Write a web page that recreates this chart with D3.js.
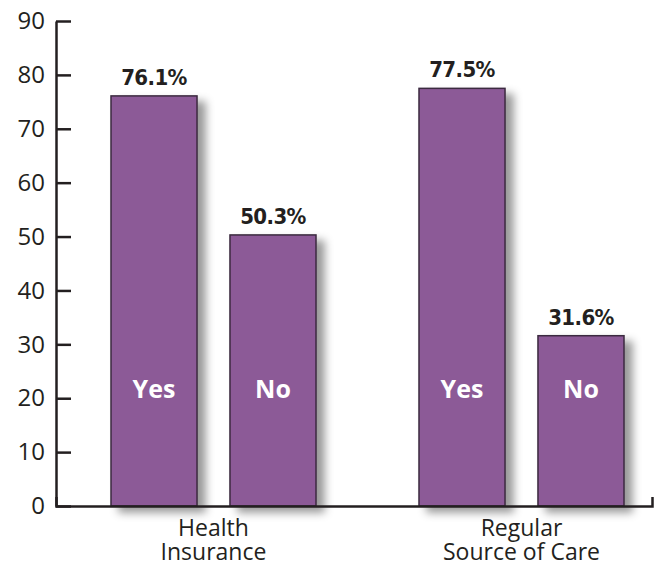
<!DOCTYPE html>
<html>
<head>
<meta charset="utf-8">
<script src="https://cdn.jsdelivr.net/npm/d3@7"></script>
<style>
  body { margin: 0; background: #fff; }
  .tick text { font-family: "Open Sans", sans-serif; font-size: 24px; fill: #231f20; }
  .valueText { font-family: "DejaVu Sans Condensed", sans-serif; font-stretch: condensed; font-weight: bold; font-size: 22px; letter-spacing: -0.6px; fill: #231f20; }
  .barText { font-family: "Open Sans", sans-serif; font-weight: bold; font-size: 25px; fill: #fff; }
  .catText { font-family: "Open Sans", sans-serif; font-size: 23px; fill: #231f20; }
</style>
</head>
<body>
<div id="chart"></div>
<script>
// Chart data
var groups = ["Health Insurance", "Regular Source of Care"];
var groupLines = [["Health", "Insurance"], ["Regular", "Source of Care"]];
var answers = ["Yes", "No"];
var yesValues = [76.1, 77.5];
var noValues = [50.3, 31.6];
var yTicks = [0, 10, 20, 30, 40, 50, 60, 70, 80, 90];

var svgWidth = 654;
var svgHeight = 566;

var svg = d3.select("#chart")
  .append("svg")
  .attr("width", svgWidth)
  .attr("height", svgHeight);

// soft shadow behind bars
var defs = svg.append("defs");
var shadow = defs.append("filter")
  .attr("id", "barShadow")
  .attr("x", "-20%").attr("y", "-20%")
  .attr("width", "160%").attr("height", "160%");
shadow.append("feDropShadow")
  .attr("dx", 8)
  .attr("dy", 6)
  .attr("stdDeviation", 4)
  .attr("flood-color", "#000")
  .attr("flood-opacity", 0.4);

// build rows from the arrays
var rows = [];
groups.forEach(function(g, i) {
  rows.push({ group: g, answer: "Yes", value: yesValues[i] });
  rows.push({ group: g, answer: "No", value: noValues[i] });
});

// scales
var yScale = d3.scaleLinear()
  .domain([0, 90])
  .range([506, 21]);

var groupScale = d3.scalePoint()
  .domain(groups)
  .range([213.5, 521.5]);

var answerScale = d3.scaleBand()
  .domain(answers)
  .range([-102.5, 102.5])
  .paddingInner(0.277);

var axisX = 56;
var axisRight = 653;

function barCenter(d) {
  return groupScale(d.group) + answerScale(d.answer) + answerScale.bandwidth() / 2;
}

// bars
var bars = svg.append("g").attr("filter", "url(#barShadow)");
bars.selectAll("rect")
  .data(rows)
  .enter()
  .append("rect")
  .attr("x", d => groupScale(d.group) + answerScale(d.answer))
  .attr("y", d => yScale(d.value))
  .attr("width", answerScale.bandwidth())
  .attr("height", d => yScale(0) - yScale(d.value))
  .attr("fill", "#8c5a97")
  .attr("stroke", "#3b2a3f")
  .attr("stroke-width", 1.5);

// value labels
svg.append("g").selectAll("text")
  .data(rows)
  .enter()
  .append("text")
  .classed("valueText", true)
  .attr("text-anchor", "middle")
  .attr("x", barCenter)
  .attr("y", d => yScale(d.value) - 11)
  .text(d => d.value.toFixed(1) + "%");

// Yes / No inside bars
svg.append("g").selectAll("text")
  .data(rows)
  .enter()
  .append("text")
  .classed("barText", true)
  .attr("text-anchor", "middle")
  .attr("x", barCenter)
  .attr("y", yScale(20))
  .text(d => d.answer);

// y axis, ticks pointing into the plot
var yAxis = d3.axisLeft(yScale)
  .tickValues(yTicks)
  .tickSizeInner(-15)
  .tickSizeOuter(0)
  .tickPadding(11);

var yAxisG = svg.append("g")
  .attr("transform", `translate(${axisX}, 0)`)
  .call(yAxis);
yAxisG.selectAll("line, path").attr("stroke", "#231f20").attr("stroke-width", 2.5);

// bottom axis line with a small upturn at the right end
var xLine = d3.scaleLinear().domain([0, 1]).range([axisX, axisRight - 1]);
var xAxis = d3.axisBottom(xLine)
  .tickValues([])
  .tickSizeOuter(-9);

var xAxisG = svg.append("g")
  .attr("transform", `translate(0, ${yScale(0)})`)
  .call(xAxis);
xAxisG.select("path").attr("stroke", "#231f20").attr("stroke-width", 2.5);

// category labels
var cats = svg.append("g").selectAll("text")
  .data(groups)
  .enter()
  .append("text")
  .classed("catText", true)
  .attr("text-anchor", "middle")
  .attr("x", d => groupScale(d))
  .attr("y", 536);

cats.selectAll("tspan")
  .data((d, i) => groupLines[i])
  .enter()
  .append("tspan")
  .attr("x", function() { return d3.select(this.parentNode).attr("x"); })
  .attr("dy", (d, i) => i === 0 ? 0 : 24)
  .text(d => d);
</script>
</body>
</html>
